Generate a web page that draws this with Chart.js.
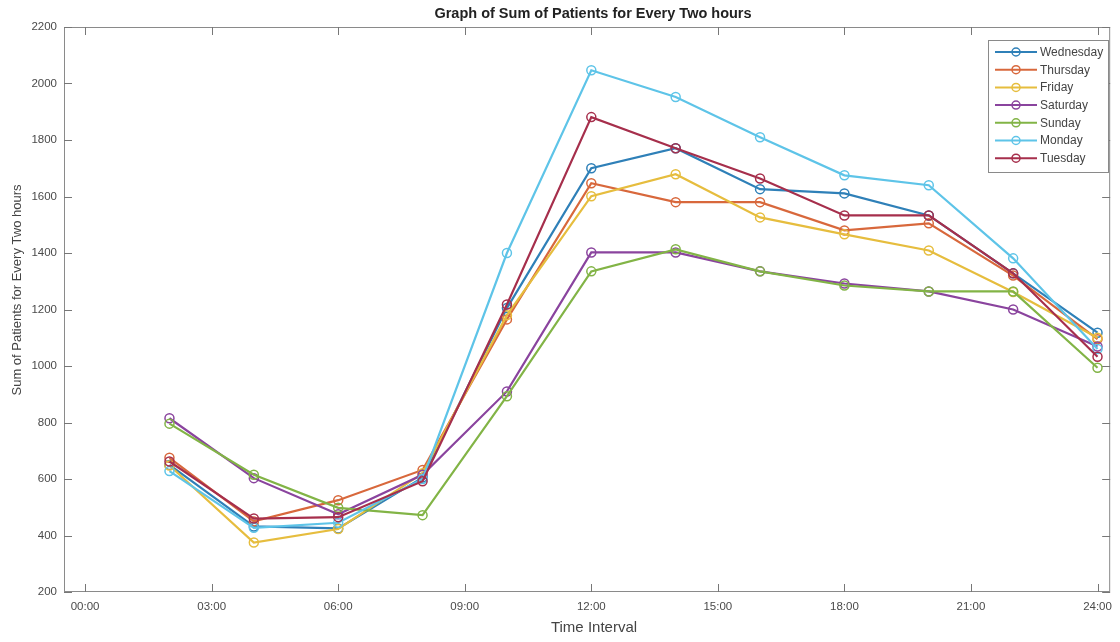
<!DOCTYPE html>
<html><head><meta charset="utf-8">
<script src="https://cdn.jsdelivr.net/npm/chart.js@4.4.1/dist/chart.umd.min.js"></script>
<style>html,body{margin:0;padding:0;background:#fff;}#wrap{width:1120px;height:642px;}</style>
</head><body><div id="wrap"><canvas id="c" width="1120" height="642"></canvas></div>
<script>
const hours = [2, 4, 6, 8, 10, 12, 14, 16, 18, 20, 22, 24];
const xTickHours = [0, 3, 6, 9, 12, 15, 18, 21, 24];
const seriesNames = ['Wednesday', 'Thursday', 'Friday', 'Saturday', 'Sunday', 'Monday', 'Tuesday'];
const wednesday = [650, 432, 425, 605, 1205, 1700, 1771, 1626, 1611, 1533, 1328, 1118];
const thursday  = [675, 450, 525, 632, 1165, 1647, 1580, 1580, 1480, 1505, 1320, 1095];
const friday    = [648, 375, 423, 620, 1180, 1601, 1679, 1526, 1466, 1409, 1262, 1100];
const saturday  = [815, 603, 475, 615, 910, 1402, 1402, 1335, 1292, 1264, 1200, 1069];
const sunday    = [796, 615, 498, 472, 893, 1335, 1413, 1335, 1285, 1264, 1264, 994];
const monday    = [628, 427, 445, 600, 1400, 2047, 1952, 1810, 1675, 1640, 1381, 1060];
const tuesday   = [662, 460, 465, 592, 1218, 1881, 1771, 1664, 1533, 1533, 1328, 1033];
const seriesValues = [wednesday, thursday, friday, saturday, sunday, monday, tuesday];
const seriesColors = ['#2f80b8', '#d8683c', '#e6bd3e', '#8a449e', '#82b446', '#5ec4e8', '#a62f4c'];
const chartTitle = 'Graph of Sum of Patients for Every Two hours';
const xAxisTitle = 'Time Interval';
const yAxisTitle = 'Sum of Patients for Every Two hours';

const FONT = '"Liberation Sans", Arial, sans-serif';

const datasets = seriesNames.map((name, i) => ({
  label: name,
  data: hours.map((h, j) => ({x: h, y: seriesValues[i][j]})),
  borderColor: seriesColors[i],
  backgroundColor: seriesColors[i],
  pointBackgroundColor: 'rgba(255,255,255,0)',
  pointBorderColor: seriesColors[i],
  pointRadius: 4.5,
  pointBorderWidth: 1.5,
  borderWidth: 2.2,
  tension: 0,
  order: seriesNames.length - i
}));

const boxPlugin = {
  id: 'boxTicks',
  afterDatasetsDraw(chart) {
    const {ctx, chartArea: a, scales} = chart;
    ctx.save();
    ctx.strokeStyle = '#8a8a8a';
    ctx.lineWidth = 1;
    ctx.strokeRect(a.left + 0.5, a.top + 0.5, a.right - a.left - 1, a.bottom - a.top - 1);
    ctx.strokeStyle = '#777';
    const L = 8;
    ctx.beginPath();
    xTickHours.forEach(h => {
      const x = Math.round(scales.x.getPixelForValue(h)) + 0.5;
      ctx.moveTo(x, a.bottom); ctx.lineTo(x, a.bottom - L);
      ctx.moveTo(x, a.top); ctx.lineTo(x, a.top + L);
    });
    scales.y.ticks.forEach(t => {
      const y = Math.round(scales.y.getPixelForValue(t.value)) + 0.5;
      ctx.moveTo(a.left, y); ctx.lineTo(a.left + L, y);
      ctx.moveTo(a.right, y); ctx.lineTo(a.right - L, y);
    });
    ctx.stroke();
    ctx.restore();
  },
  afterDraw(chart) {
    const {ctx} = chart;
    ctx.save();
    ctx.textAlign = 'center';
    ctx.textBaseline = 'middle';
    ctx.fillStyle = '#222';
    ctx.font = 'bold 14.5px ' + FONT;
    ctx.fillText(chartTitle, 593, 14);
    ctx.fillStyle = '#444';
    ctx.font = '15px ' + FONT;
    ctx.fillText(xAxisTitle, 594, 628);
    ctx.translate(17, 290);
    ctx.rotate(-Math.PI / 2);
    ctx.font = '13px ' + FONT;
    ctx.fillText(yAxisTitle, 0, 0);
    ctx.restore();

    const bx = 988, by = 40, bw = 120, bh = 132;
    ctx.save();
    ctx.fillStyle = '#fff';
    ctx.fillRect(bx, by, bw, bh);
    ctx.strokeStyle = '#8a8a8a';
    ctx.lineWidth = 1;
    ctx.strokeRect(bx + 0.5, by + 0.5, bw, bh);
    ctx.font = '12px ' + FONT;
    ctx.textBaseline = 'middle';
    ctx.textAlign = 'left';
    seriesNames.forEach((name, i) => {
      const y = 52 + i * 17.7;
      ctx.strokeStyle = seriesColors[i];
      ctx.lineWidth = 2;
      ctx.beginPath(); ctx.moveTo(995, y); ctx.lineTo(1037, y); ctx.stroke();
      ctx.lineWidth = 1.5;
      ctx.beginPath(); ctx.arc(1016, y, 4, 0, Math.PI * 2); ctx.stroke();
      ctx.fillStyle = '#444';
      ctx.fillText(name, 1040, y + 0.5);
    });
    ctx.restore();
  }
};

new Chart(document.getElementById('c'), {
  type: 'line',
  data: {datasets},
  plugins: [boxPlugin],
  options: {
    responsive: false,
    animation: false,
    devicePixelRatio: 1,
    layout: {padding: {top: 27, right: 8, left: 0, bottom: 0}},
    plugins: {
      legend: {display: false},
      tooltip: {enabled: false},
      title: {display: false}
    },
    scales: {
      x: {
        type: 'linear',
        min: -0.5,
        max: 24.3,
        afterBuildTicks: s => { s.ticks = xTickHours.map(v => ({value: v})); },
        afterFit: s => { s.height = 50; },
        grid: {display: false, drawTicks: false},
        border: {display: false},
        ticks: {
          autoSkip: false, maxRotation: 0, padding: 8,
          color: '#4a4a4a', font: {family: FONT, size: 11.5},
          callback: v => String(v).padStart(2, '0') + ':00'
        },
        title: {display: false}
      },
      y: {
        min: 200,
        max: 2200,
        afterFit: s => { s.width = 64; },
        grid: {display: false, drawTicks: false},
        border: {display: false},
        ticks: {stepSize: 200, padding: 7, color: '#4a4a4a', font: {family: FONT, size: 11.5},
          callback: v => String(v)},
        title: {display: false}
      }
    }
  }
});
</script></body></html>
